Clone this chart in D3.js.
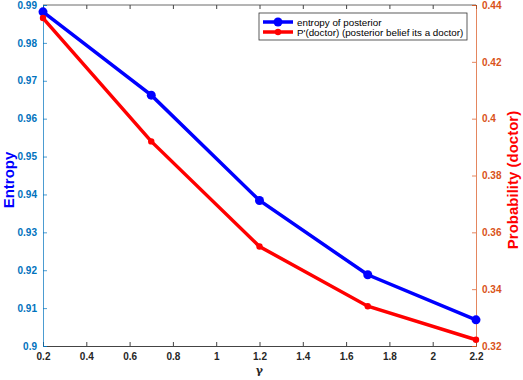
<!DOCTYPE html>
<html lang="en">
<head>
    <style>
        body { margin: 0; background: #fff; }
        svg { display: block; font-family: "Liberation Sans", Arial, sans-serif; }
    </style>
</head>
<body>
    <svg width="523" height="380"></svg>
    <script src="https://cdn.jsdelivr.net/npm/d3@7"></script>
    <script>
        // Data
        const gamma = [0.2, 0.7, 1.2, 1.7, 2.2];
        const entropy = [0.9882, 0.9662, 0.9384, 0.9188, 0.9069];
        const probDoctor = [0.4354, 0.392, 0.355, 0.334, 0.3222];
        const xTicks = [0.2, 0.4, 0.6, 0.8, 1, 1.2, 1.4, 1.6, 1.8, 2, 2.2];
        const leftTicks = [0.9, 0.91, 0.92, 0.93, 0.94, 0.95, 0.96, 0.97, 0.98, 0.99];
        const rightTicks = [0.32, 0.34, 0.36, 0.38, 0.4, 0.42, 0.44];
        const legendLabels = ["entropy of posterior", "P'(doctor) (posterior belief its a doctor)"];

        const svg = d3.select("svg");
        const plotL = 43, plotR = 476, plotT = 5, plotB = 346;

        const x = d3.scaleLinear().domain([0.2, 2.2]).range([plotL, plotR]);
        const yL = d3.scaleLinear().domain([0.9, 0.99]).range([plotB, plotT]);
        const yR = d3.scaleLinear().domain([0.32, 0.44]).range([plotB, plotT]);

        const blueAx = "#0072BD", orangeAx = "#D95319";

        // top box line
        svg.append("line").attr("x1", plotL).attr("x2", plotR).attr("y1", plotT).attr("y2", plotT)
            .attr("stroke", "#444").attr("stroke-width", 0.8);

        // bottom axis
        const gx = svg.append("g").attr("transform", `translate(0,${plotB})`)
            .call(d3.axisBottom(x).tickValues(xTicks).tickSize(-4).tickPadding(7).tickFormat(d3.format("")));
        // top ticks
        const gt = svg.append("g").attr("transform", `translate(0,${plotT})`)
            .call(d3.axisTop(x).tickValues(xTicks).tickSize(-4).tickFormat(""));
        gt.select(".domain").remove();
        gt.selectAll("line").attr("stroke", "#444");
        gx.selectAll("line").attr("stroke", "#444");
        gx.select(".domain").attr("stroke", "#444");
        gx.selectAll("text").attr("fill", "#262626").style("font-size", "10px").style("font-weight", "bold");

        // left axis
        const gl = svg.append("g").attr("transform", `translate(${plotL},0)`)
            .call(d3.axisLeft(yL).tickValues(leftTicks).tickSize(-4).tickPadding(6).tickFormat(d3.format("")));
        gl.selectAll("line, path").attr("stroke", blueAx).attr("stroke-opacity", 0.7);
        gl.selectAll("text").attr("fill", blueAx).style("font-size", "10px").style("font-weight", "bold");

        // right axis
        const gr = svg.append("g").attr("transform", `translate(${plotR},0)`)
            .call(d3.axisRight(yR).tickValues(rightTicks).tickSize(-4).tickPadding(6).tickFormat(d3.format("")));
        gr.selectAll("line, path").attr("stroke", orangeAx).attr("stroke-opacity", 0.7);
        gr.selectAll("text").attr("fill", orangeAx).style("font-size", "10px").style("font-weight", "bold");

        // axis labels
        svg.append("text").attr("transform", "translate(14,180) rotate(-90)")
            .attr("text-anchor", "middle").attr("fill", "#0000FF")
            .style("font-size", "15px").style("font-weight", "bold").text("Entropy");
        svg.append("text").attr("transform", "translate(518,180) rotate(-90)")
            .attr("text-anchor", "middle").attr("fill", "#FF0000")
            .style("font-size", "15px").style("font-weight", "bold").text("Probability (doctor)");
        svg.append("text").attr("x", (plotL + plotR) / 2).attr("y", 374)
            .attr("text-anchor", "middle").attr("fill", "#262626")
            .style("font-family", "'DejaVu Serif', 'Liberation Serif', serif")
            .style("font-size", "11px").style("font-weight", "bold").text("γ");

        // series
        const lineL = d3.line().x((d, i) => x(gamma[i])).y(d => yL(d));
        const lineR = d3.line().x((d, i) => x(gamma[i])).y(d => yR(d));

        svg.append("path").datum(entropy).attr("d", lineL)
            .attr("fill", "none").attr("stroke", "#0000FF").attr("stroke-width", 3.5);
        svg.append("path").datum(probDoctor).attr("d", lineR)
            .attr("fill", "none").attr("stroke", "#FF0000").attr("stroke-width", 3.5);

        svg.selectAll(".mb").data(entropy).enter().append("circle")
            .attr("cx", (d, i) => x(gamma[i])).attr("cy", d => yL(d)).attr("r", 4.5).attr("fill", "#0000FF");
        svg.selectAll(".mr").data(probDoctor).enter().append("circle")
            .attr("cx", (d, i) => x(gamma[i])).attr("cy", d => yR(d)).attr("r", 3.2).attr("fill", "#FF0000");

        // legend
        const lg = svg.append("g").attr("transform", "translate(259,13)");
        lg.append("rect").attr("width", 208).attr("height", 27)
            .attr("fill", "#fff").attr("stroke", "#333").attr("stroke-width", 0.8);
        const cols = ["#0000FF", "#FF0000"], rads = [4.5, 3.2];
        legendLabels.forEach((t, i) => {
            const yy = 9 + i * 10;
            lg.append("line").attr("x1", 4).attr("x2", 34).attr("y1", yy).attr("y2", yy)
                .attr("stroke", cols[i]).attr("stroke-width", 3.5);
            lg.append("circle").attr("cx", 19).attr("cy", yy).attr("r", rads[i]).attr("fill", cols[i]);
            lg.append("text").attr("x", 38).attr("y", yy + 3.5).attr("fill", "#000")
                .style("font-size", "9.8px").text(t);
        });
    </script>
</body>
</html>
